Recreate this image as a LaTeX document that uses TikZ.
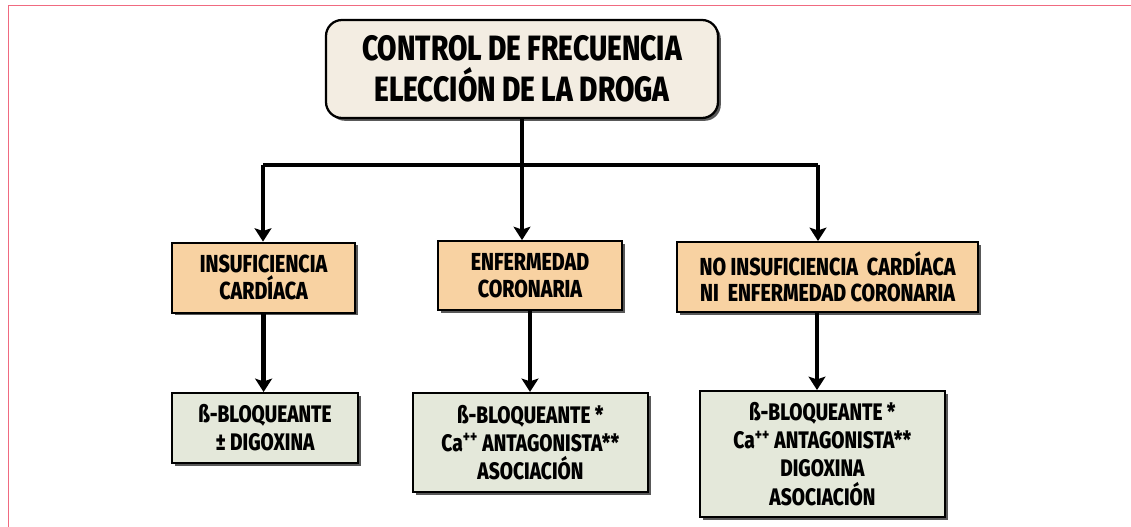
\documentclass[tikz,border=0pt]{standalone}
\usepackage{fontspec}
\setmainfont{Fira Sans}[FakeStretch=0.8, BoldFont={Fira Sans ExtraBold}]
\usetikzlibrary{arrows.meta,shadows}
\definecolor{topfill}{HTML}{F3EDE2}
\definecolor{midfill}{HTML}{F8D2A2}
\definecolor{endfill}{HTML}{E4E8DA}
\definecolor{framepink}{HTML}{F06A80}
\tikzset{
	boxshadow/.style={drop shadow={shadow xshift=0.07cm, shadow yshift=-0.07cm, fill=black!65, opacity=1}},
	topbox/.style={rectangle, rounded corners=0.4cm, draw, line width=1.6pt, fill=topfill, boxshadow,
		align=center, font=\fontsize{25}{29}\selectfont\bfseries},
	midbox/.style={rectangle, draw, line width=1.4pt, fill=midfill, boxshadow,
		align=center, font=\fontsize{17.5}{18.8}\selectfont\bfseries},
	endbox/.style={rectangle, draw, line width=1.4pt, fill=endfill, boxshadow,
		align=center, font=\fontsize{17}{20}\selectfont\bfseries},
	arr/.style={line width=3.2pt, -{Stealth[length=9.5pt, width=12pt, inset=2pt]}},
	bar/.style={line width=3.2pt, line join=round},
	frame/.style={framepink, line width=1.4pt}
}
\begin{document}
\begin{tikzpicture}
	\useasboundingbox (0,0) rectangle (28.275,-13.175);
	\draw[frame] (28.275,-0.1375) -- (0.2125,-0.1375) -- (0.2125,-13.175);
	% titulo
	\node (top) at (13.05,-1.725) [topbox, minimum width=9.8cm, minimum height=2.45cm] {CONTROL DE FRECUENCIA\\ELECCIÓN DE LA DROGA};
	% situaciones
	\node (ins) at (6.59,-6.94) [midbox, minimum width=4.575cm, minimum height=1.75cm] {INSUFICIENCIA\\CARDÍACA};
	\node (enf) at (13.25,-6.89) [midbox, minimum width=4.6cm, minimum height=1.725cm] {ENFERMEDAD\\CORONARIA};
	\node (noic) at (20.69,-6.925) [midbox, minimum width=7.525cm, minimum height=1.75cm] {NO INSUFICIENCIA\ \ CARDÍACA\\NI\ \ ENFERMEDAD CORONARIA};
	% drogas
	\node (dr1) at (6.625,-10.7) [endbox, minimum width=4.65cm, minimum height=1.75cm] {ß-BLOQUEANTE\\± DIGOXINA};
	\node (dr2) at (13.26,-11.06) [endbox, minimum width=5.875cm, minimum height=2.475cm] {ß-BLOQUEANTE *\\Ca\textsuperscript{++} ANTAGONISTA**\\ASOCIACIÓN};
	\node (dr3) at (20.56,-11.35) [endbox, minimum width=6.125cm, minimum height=3.15cm] {ß-BLOQUEANTE *\\Ca\textsuperscript{++} ANTAGONISTA**\\DIGOXINA\\ASOCIACIÓN};
	% conectores
	\coordinate (bl) at (6.575,-4.125);
	\coordinate (br) at (20.45,-4.125);
	\coordinate (c3) at (20.425,0);
	\draw[bar] (top.south) -- (top.south |- bl);
	\draw[bar] (bl) -- (br);
	\draw[arr] (bl) -- (bl |- ins.north);
	\draw[arr] (top.south |- bl) -- (top.south |- enf.north);
	\draw[arr] (br) -- (br |- noic.north);
	\draw[arr] (ins.south) -- (ins.south |- dr1.north);
	\draw[arr] (enf.south) -- (enf.south |- dr2.north);
	\draw[arr] (noic.south -| c3) -- (dr3.north -| c3);
\end{tikzpicture}
\end{document}
